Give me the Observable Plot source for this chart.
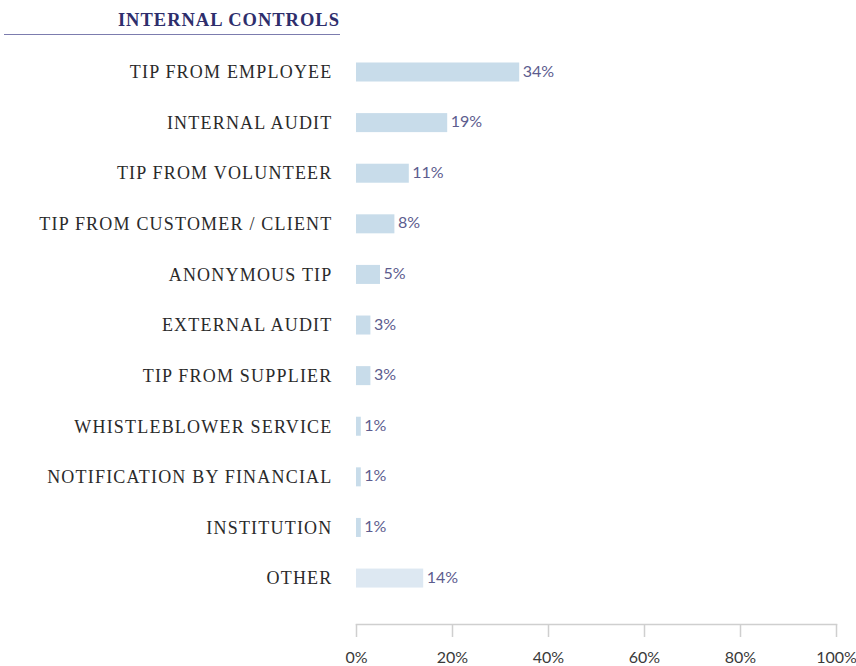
<!DOCTYPE html>
<html>
<head>
<meta charset="utf-8">
<script src="https://cdn.jsdelivr.net/npm/d3@7"></script>
<script src="https://cdn.jsdelivr.net/npm/@observablehq/plot@0.6"></script>
<style>
  html, body { margin: 0; padding: 0; background: #fff; }
  #wrap { position: relative; width: 856px; height: 666px; }
  #title {
    position: absolute; left: 4px; top: 8px; width: 336px; height: 26px;
    text-align: right; font-family: "Liberation Serif", serif; font-weight: bold;
    font-size: 18.5px; color: #2e2e6c; letter-spacing: 1px;
    border-bottom: 1.5px solid #7c7cae; line-height: 24px;
  }
</style>
</head>
<body>
<div id="wrap">
  <div id="title">INTERNAL CONTROLS</div>
  <div id="chart"></div>
</div>
<script>
const categories = [
  "TIP FROM EMPLOYEE",
  "INTERNAL AUDIT",
  "TIP FROM VOLUNTEER",
  "TIP FROM CUSTOMER / CLIENT",
  "ANONYMOUS TIP",
  "EXTERNAL AUDIT",
  "TIP FROM SUPPLIER",
  "WHISTLEBLOWER SERVICE",
  "NOTIFICATION BY FINANCIAL",
  "INSTITUTION",
  "OTHER"
];
const values = [34, 19, 11, 8, 5, 3, 3, 1, 1, 1, 14];
const barColors = ["#c8dcea","#c8dcea","#c8dcea","#c8dcea","#c8dcea","#c8dcea","#c8dcea","#c8dcea","#c8dcea","#c8dcea","#dde8f2"];
const xTicks = [0, 20, 40, 60, 80, 100];

const data = categories.map((c, i) => ({category: c, value: values[i], color: barColors[i]}));

const chart = Plot.plot({
  width: 856,
  height: 666,
  marginLeft: 356,
  marginRight: 20,
  marginTop: 46.7,
  marginBottom: 42,
  style: {background: "transparent"},
  x: {domain: [0, 100], ticks: xTicks, tickFormat: d => d + "%"},
  y: {domain: categories, paddingInner: 0, paddingOuter: 0.204, align: 0, round: false},
  marks: [
    Plot.barX(data, {x: "value", y: "category", fill: "color", insetTop: 15.8, insetBottom: 15.8}),
    Plot.text(data, {x: "value", y: "category", text: d => d.value + "%", textAnchor: "start", dx: 3, dy: -1,
      fill: "#5c5c8e", fontSize: 16, fontFamily: "Lato, sans-serif"}),
    Plot.frame({anchor: "bottom", stroke: "#cfcfcf", strokeWidth: 1.5}),
    Plot.axisX({ticks: xTicks, tickFormat: d => d + "%", tickSize: 13, tickPadding: 14, stroke: "#cfcfcf",
      strokeWidth: 1.5, fill: "#3a3a3a", fontSize: 16, fontFamily: "Lato, sans-serif", label: null}),
    Plot.axisY({tickSize: 0, tickPadding: 24, fill: "#2a2a2a", fontSize: 18, fontFamily: "Liberation Serif, serif", label: null})
  ]
});
chart.querySelectorAll("text").forEach(t => {
  if (categories.includes(t.textContent)) t.style.letterSpacing = "1.2px";
});
document.getElementById("chart").appendChild(chart);
</script>
</body>
</html>
